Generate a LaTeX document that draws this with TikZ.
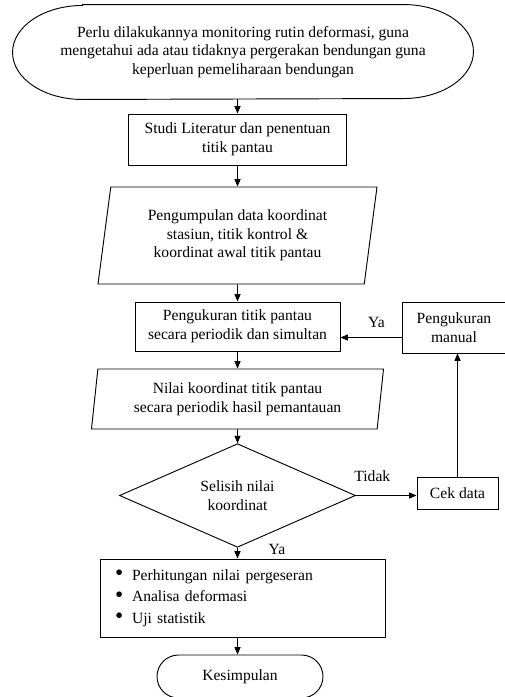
\documentclass[tikz,border=0pt]{standalone}
\usepackage{fontspec}
\setmainfont{Liberation Serif}
\usetikzlibrary{arrows.meta,positioning,shapes.geometric,shapes.misc}
\newcommand{\butir}{\makebox[12.75pt][l]{\raisebox{-.5pt}{\scalebox{1.5}{\textbullet}}}}

\begin{document}
\begin{tikzpicture}[x=0.75pt,y=-0.75pt,>={Triangle[length=5.5pt,width=4.5pt]},line width=0.7pt,
  every node/.style={font=\fontsize{11.7pt}{13.9pt}\selectfont,inner sep=0pt,align=center},
  kotak/.style={draw,rectangle},
  dataio/.style={draw,trapezium,trapezium stretches body},
  keputusan/.style={draw,diamond},
  akhir/.style={draw,rounded rectangle}]
\useasboundingbox (0,0) rectangle (505,697);
\node[minimum width=345pt,minimum height=70.5pt] (mulai) at (243,52)
  {Perlu dilakukannya monitoring rutin deformasi, guna\\mengetahui ada atau tidaknya pergerakan bendungan guna\\keperluan pemeliharaan bendungan};
\draw ([xshift=52.5pt]mulai.north west) -- ([xshift=-52.5pt]mulai.north east)
  arc[start angle=90,end angle=-90,x radius=52.5pt,y radius=35.25pt]
  -- ([xshift=52.5pt]mulai.south west)
  arc[start angle=270,end angle=90,x radius=52.5pt,y radius=35.25pt] -- cycle;
\node[kotak,minimum width=163.5pt,minimum height=38.25pt] (studi) at (237.5,139.5)
  {Studi Literatur dan penentuan\\titik pantau};
\node[dataio,trapezium left angle=76,trapezium right angle=104,minimum width=209.25pt,minimum height=72.75pt] (data1) at (237.5,235.5)
  {Pengumpulan data koordinat\\stasiun, titik kontrol \&\\koordinat awal titik pantau};
\node[kotak,minimum width=153.75pt,minimum height=36.75pt] (ukur) at (237.5,326.5)
  {Pengukuran titik pantau\\secara periodik dan simultan};
\node[kotak,minimum width=78pt,minimum height=38.25pt] (manual) at (454,327.5)
  {Pengukuran\\manual};
\node[dataio,trapezium left angle=79,trapezium right angle=101,minimum width=219pt,minimum height=45pt] (data2) at (237.5,399)
  {Nilai koordinat titik pantau\\secara periodik hasil pemantauan};
\node[keputusan,minimum width=177pt,minimum height=69.75pt] (selisih) at (237.5,495.5)
  {Selisih nilai\\koordinat};
\node[kotak,minimum width=60.75pt,minimum height=24pt] (cek) at (457.5,493) {Cek data};
\node[kotak,align=left,text width=191.25pt,inner xsep=11.25pt,minimum height=58.5pt,
  font=\fontsize{11.7pt}{16.1pt}\selectfont] (hasil) at (242.5,598)
  {\butir Perhitungan nilai pergeseran\\\butir Analisa deformasi\\\butir Uji statistik};
\node[akhir,minimum width=124.5pt,minimum height=32.25pt] (selesai) at (240,676.5) {Kesimpulan};
\draw[->] (studi.north |- mulai.south) -- (studi.north);
\draw[->] (studi.south) -- (data1.north);
\draw[->] (data1.south) -- (ukur.north);
\draw[->] (ukur.south) -- (data2.north);
\draw[->] (data2.south) -- (selisih.north);
\draw[->] (selisih.east) -- (selisih.east -| cek.west) node[pos=.27,above=10pt] {Tidak};
\draw[->] (cek.north) -- (cek.north |- manual.south);
\draw[->] ([yshift=-7.5pt]manual.west) -- ([yshift=-7.5pt]manual.west -| ukur.east) node[pos=.41,above=7pt] {Ya};
\draw[->] (selisih.south) -- (selisih.south |- hasil.north) node[pos=.2,right=23pt] {Ya};
\draw[->] (selisih.south |- hasil.south) -- (selisih.south |- selesai.north);
\end{tikzpicture}
\end{document}
